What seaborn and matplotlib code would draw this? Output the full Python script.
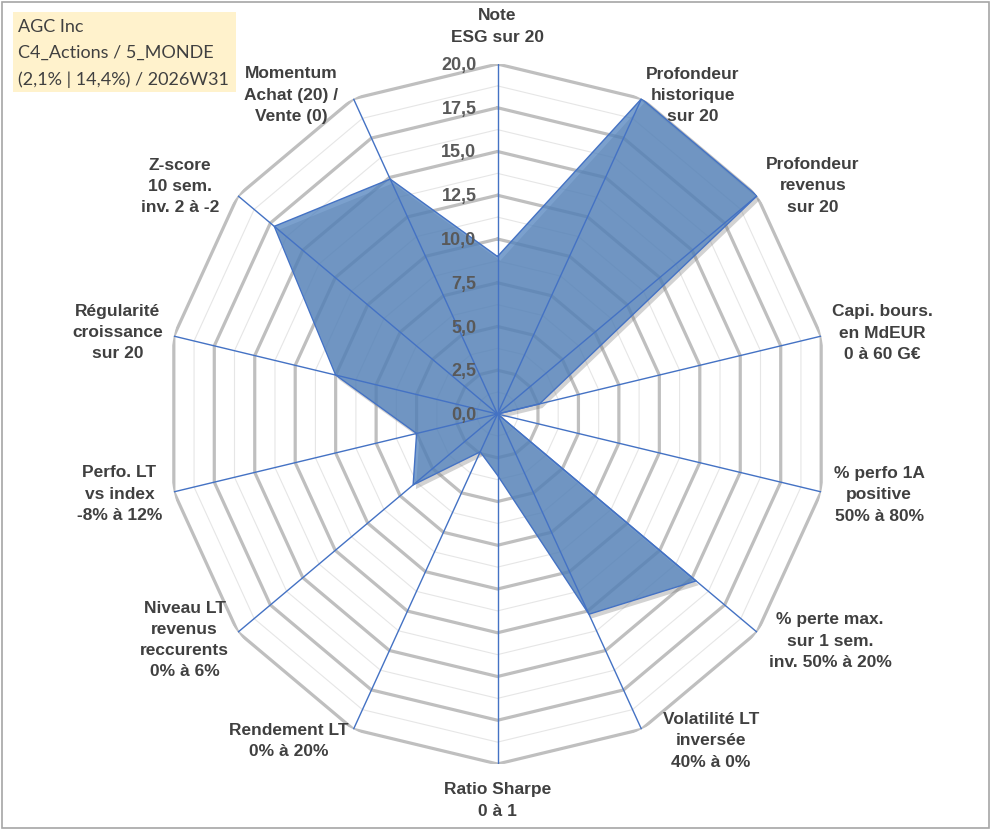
import numpy as np
import matplotlib
matplotlib.use("Agg")
import matplotlib.pyplot as plt
import matplotlib.patheffects as pe
from matplotlib.patches import Rectangle
import seaborn as sns

# ---------------- data ----------------
categories = [
    "Note\nESG sur 20",
    "Profondeur\nhistorique\nsur 20",
    "Profondeur\nrevenus\nsur 20",
    "Capi. bours.\nen MdEUR\n0 à 60 G€",
    "% perfo 1A\npositive\n50% à 80%",
    "% perte max.\nsur 1 sem.\ninv. 50% à 20%",
    "Volatilité LT\ninversée\n40% à 0%",
    "Ratio Sharpe\n0 à 1",
    "Rendement LT\n0% à 20%",
    "Niveau LT\nrevenus\nreccurents\n0% à 6%",
    "Perfo. LT\nvs index\n-8% à 12%",
    "Régularité\ncroissance\nsur 20",
    "Z-score\n10 sem.\ninv. 2 à -2",
    "Momentum\nAchat (20) /\nVente (0)",
]
values = [9.0, 20.0, 20.0, 2.6, 0.0, 15.3, 12.7, 3.5, 2.4, 6.5, 5.0, 10.0, 17.2, 14.9]
r_ticks = [0.0, 2.5, 5.0, 7.5, 10.0, 12.5, 15.0, 17.5, 20.0]
r_minor = [1.25, 3.75, 6.25, 8.75, 11.25, 13.75, 16.25, 18.75]
title_lines = ["AGC Inc", "C4_Actions / 5_MONDE", "(2,1% | 14,4%) / 2026W31"]

# ---------------- layout / style (not data) ----------------
label_offsets = [  # pixel offsets (x right, y up) of label-block centre from axis end
    (0, 37.5), (51, 3), (56, 10), (61, 3), (58, -3), (73, -9), (69.5, -11.6),
    (0, -36.5), (-64.4, -12), (-53.4, -7.8), (-54.3, -2.3), (-56.3, 3.8),
    (-58, 9.5), (-62, 3.6),
]
W, H = 991, 830
cx, cy = 497.5, 414.0     # centre in image px (from top)
rx, ry = 332.0, 350.0     # horizontal / vertical radius in px

sns.set_theme(style="white")
plt.rcParams["font.family"] = ["Liberation Sans", "DejaVu Sans"]

fig = plt.figure(figsize=(W / 100, H / 100), dpi=100)
fig.patch.set_facecolor("white")

ax = fig.add_axes([(cx - rx) / W, (H - cy - ry) / H, 2 * rx / W, 2 * ry / H],
                  projection="polar")
ax.set_aspect("auto")
ax.set_theta_zero_location("N")
ax.set_theta_direction(-1)
ax.set_facecolor("none")
ax.grid(False)
ax.spines["polar"].set_visible(False)

n = len(categories)
theta = np.arange(n) * 2 * np.pi / n
theta_c = np.append(theta, 2 * np.pi)
vals_c = np.append(values, values[0])

# minor and major polygonal rings
for lv in r_minor:
    ax.plot(theta_c, [lv] * (n + 1), color="#E6E6E6", lw=0.8, zorder=1)
for lv in r_ticks[1:]:
    ax.plot(theta_c, [lv] * (n + 1), color="#BFBFBF", lw=2.3, zorder=2,
            solid_joinstyle="miter")

# filled series
fill = ax.fill(theta_c, vals_c, color="#4F81BD", alpha=0.75, lw=0, zorder=3)
for p in fill:
    p.set_path_effects([pe.SimplePatchShadow(offset=(2, -3), shadow_rgbFace="#7F7F7F",
                                             alpha=0.35), pe.Normal()])

# spokes
for t in theta:
    ax.plot([t, t], [0, r_ticks[-1]], color="#4472C4", lw=1.0, zorder=4)

# outline with seaborn
sns.lineplot(x=theta_c, y=vals_c, sort=False, estimator=None, ax=ax,
             color="#4472C4", lw=1.0, zorder=5)
ax.set_xlabel("")
ax.set_ylabel("")
ax.set_xticks([])
ax.set_yticks([])
ax.set_ylim(0, r_ticks[-1])
if ax.get_legend() is not None:
    ax.get_legend().remove()

# radial tick labels
for lv in r_ticks:
    ax.annotate(f"{lv:.1f}".replace(".", ","), xy=(0, lv), xytext=(-21, -1.5),
                textcoords="offset pixels", ha="right", va="center",
                fontsize=13, fontweight="bold", color="#595959", zorder=6,
                annotation_clip=False)

# category labels
for t, lab, off in zip(theta, categories, label_offsets):
    ax.annotate(lab, xy=(t, r_ticks[-1]), xytext=off, textcoords="offset pixels",
                ha="center", va="center", multialignment="center",
                fontsize=12.5, fontweight="bold", color="#404040", linespacing=1.52,
                annotation_clip=False)

# title box
fig.patches.append(Rectangle((12.7 / W, 1 - 91.7 / H), 223.3 / W, 80 / H,
                             transform=fig.transFigure, facecolor="#FFF2CC",
                             edgecolor="none", zorder=0))
for i, line in enumerate(title_lines):
    fig.text(18.3 / W, 1 - (26.7 + 26.3 * i) / H, line, ha="left", va="center",
             fontsize=13, color="#404040", family=["Lato", "DejaVu Sans"])

# outer frame
fig.patches.append(Rectangle((2 / W, 2 / H), 987 / W, 826 / H,
                             transform=fig.transFigure, facecolor="none",
                             edgecolor="#A6A6A6", lw=1.2, zorder=10))

fig.savefig("out.png", dpi=100)
